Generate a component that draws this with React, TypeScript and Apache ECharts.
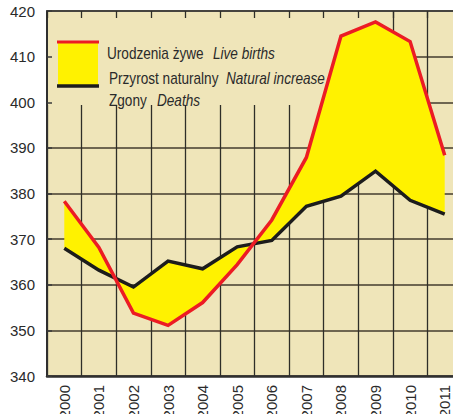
import React, { useEffect, useRef } from "react";
import * as echarts from "echarts";

const years = ["2000", "2001", "2002", "2003", "2004", "2005", "2006", "2007", "2008", "2009", "2010", "2011"];
const liveBirths = [378.3, 368.2, 353.8, 351.1, 356.1, 364.4, 374.2, 387.9, 414.5, 417.6, 413.3, 388.4];
const deaths = [368.0, 363.2, 359.5, 365.2, 363.5, 368.3, 369.7, 377.2, 379.4, 384.9, 378.5, 375.5];
const yTicks = { min: 340, max: 420, interval: 10 };

const FONT = "'Liberation Sans', Arial, sans-serif";
const BG = "#EFE5B9";
const YELLOW = "#FFF200";
const RED = "#EC1C24";
const BLACK = "#1c1c1c";
const TEXT = "#2a2a2a";
const SX = 0.85;

export default function App() {
  const ref = useRef<HTMLDivElement>(null);
  useEffect(() => {
    if (!ref.current) return;
    const chart = echarts.init(ref.current, null, { renderer: "svg" });
    const gridCfg = { left: 47, top: 11, width: 415, height: 365, show: true, backgroundColor: BG, borderWidth: 0, outerBoundsMode: "none" } as any;
    const legendText = (text: string, x: number, y: number, italic: boolean) => ({
      type: "text",
      z: 6,
      x,
      y,
      scaleX: SX,
      style: { text, font: `${italic ? "italic " : ""}16px ${FONT}`, fill: TEXT, textBaseline: "alphabetic" },
    });
    chart.setOption({
      animation: false,
      backgroundColor: "#ffffff",
      grid: gridCfg,
      xAxis: [
        {
          type: "category",
          data: years,
          boundaryGap: true,
          position: "bottom",
          z: 0,
          axisLine: { show: true, lineStyle: { color: "#2f2f2f", width: 2.5 } },
          axisTick: { show: false },
          splitLine: { show: true, interval: 0, lineStyle: { color: "#2e2e28", width: 1.3 } },
          axisLabel: { rotate: 90, margin: 9, fontSize: 15, fontFamily: FONT, color: TEXT, interval: 0 },
        },
        {
          type: "category",
          data: years,
          boundaryGap: true,
          position: "top",
          z: 4,
          axisLine: { show: true, lineStyle: { color: "#3a3a3a", width: 1.5 } },
          axisTick: { show: true, inside: true, length: 7, interval: 0, lineStyle: { color: "#2e2e28", width: 1.3 } },
          axisLabel: { show: false },
          splitLine: { show: false },
        },
      ],
      yAxis: [
        {
          type: "value",
          min: yTicks.min,
          max: yTicks.max,
          interval: yTicks.interval,
          z: 0,
          axisLine: { show: false },
          axisTick: { show: false },
          axisLabel: { show: false },
          splitLine: { show: true, lineStyle: { color: "#6e6650", width: 2 } },
        },
        {
          type: "value",
          min: yTicks.min,
          max: yTicks.max,
          interval: yTicks.interval,
          position: "left",
          z: 4,
          axisLine: { show: true, lineStyle: { color: "#2f2f2f", width: 2 } },
          axisTick: { show: true, inside: true, length: 5, lineStyle: { color: "#3a3a3a", width: 1.5 } },
          axisLabel: { margin: 12, fontSize: 15, fontFamily: FONT, color: TEXT },
          splitLine: { show: false },
        },
      ],
      graphic: [
        { type: "rect", z: 1, shape: { x: 48, y: 12, width: 344, height: 93 }, style: { fill: BG } },
        { type: "rect", z: 5, shape: { x: 58, y: 43, width: 40, height: 42 }, style: { fill: YELLOW } },
        { type: "line", z: 6, shape: { x1: 57, y1: 42, x2: 99, y2: 42 }, style: { stroke: RED, lineWidth: 3 } },
        { type: "line", z: 6, shape: { x1: 57, y1: 86, x2: 99, y2: 86 }, style: { stroke: BLACK, lineWidth: 3.5 } },
        legendText("Urodzenia żywe", 107, 46, false),
        legendText("Live births", 213, 46, true),
        legendText("Przyrost naturalny", 109, 71, false),
        legendText("Natural increase", 226, 71, true),
        legendText("Zgony", 109, 93, false),
        legendText("Deaths", 157, 93, true),
      ],
      series: [
        {
          type: "custom",
          name: "Przyrost naturalny",
          z: 2,
          xAxisIndex: 0,
          yAxisIndex: 0,
          data: years.map((_, i) => [i, liveBirths[i], deaths[i]]),
          encode: { x: 0, y: [1, 2] },
          renderItem: (params: any, api: any) => {
            if (params.dataIndex !== 0) return null;
            const top = liveBirths.map((v, i) => api.coord([i, v]));
            const bot = deaths.map((v, i) => api.coord([i, v])).reverse();
            return { type: "polygon", shape: { points: [...top, ...bot] }, style: { fill: YELLOW } };
          },
        },
        {
          type: "line",
          name: "Zgony",
          z: 3,
          data: deaths,
          symbol: "none",
          lineStyle: { color: BLACK, width: 3.5, join: "miter" },
        },
        {
          type: "line",
          name: "Urodzenia żywe",
          z: 3,
          data: liveBirths,
          symbol: "none",
          lineStyle: { color: RED, width: 3.5, join: "miter" },
        },
      ],
    });
    return () => chart.dispose();
  }, []);
  return (
    <div style={{ position: "fixed", left: 0, top: 0, width: 453, height: 414, overflow: "hidden", background: "#fff" }}>
      <div ref={ref} style={{ width: 480, height: 414 }} />
    </div>
  );
}
